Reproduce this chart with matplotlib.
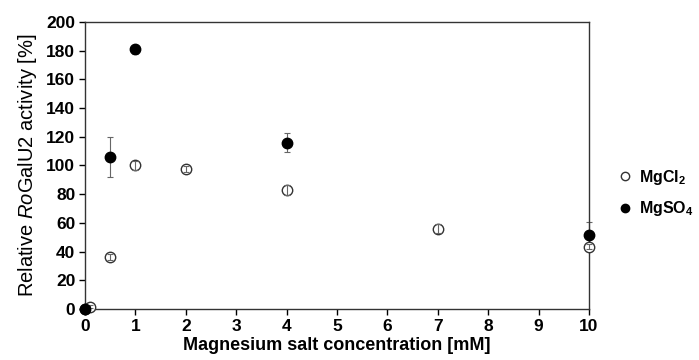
import matplotlib
matplotlib.use("Agg")
import matplotlib.pyplot as plt
from matplotlib.lines import Line2D

plt.rcParams["font.family"] = ["Liberation Sans", "DejaVu Sans"]
plt.rcParams["font.weight"] = "bold"
plt.rcParams["mathtext.fontset"] = "custom"
plt.rcParams["mathtext.rm"] = "Liberation Sans:bold"
plt.rcParams["mathtext.bf"] = "Liberation Sans:bold"
plt.rcParams["mathtext.it"] = "Liberation Sans:italic:normal"

# MgCl2 (open circles)
cl_x = [0, 0.1, 0.5, 1, 2, 4, 7, 10]
cl_y = [0, 1.5, 36, 100, 97.5, 83, 56, 43.5]
cl_err = [0, 1, 2, 3, 2, 3.5, 3, 2]

# MgSO4 (filled circles)
so_x = [0, 0.5, 1, 4, 10]
so_y = [0, 106, 181, 116, 51.5]
so_err = [0, 14, 3, 6.5, 9]

fig = plt.figure(figsize=(6.99, 3.6), dpi=100)
ax = fig.add_axes([85 / 699, 1 - 309 / 360, (589 - 85) / 699, (309 - 22) / 360])

ax.plot(cl_x, cl_y, "o", ms=7.5, mfc="white", mec="#333333", mew=1.0,
        clip_on=False, zorder=3)
ax.errorbar(cl_x, cl_y, yerr=cl_err, fmt="none", ecolor="#666666", elinewidth=0.8,
            capsize=2.5, capthick=0.8, clip_on=False, zorder=4)
ax.plot(so_x, so_y, "o", ms=7.5, mfc="black", mec="black", clip_on=False, zorder=5)
ax.errorbar(so_x, so_y, yerr=so_err, fmt="none", ecolor="#666666", elinewidth=0.8,
            capsize=2.5, capthick=0.8, clip_on=False, zorder=2)

ax.set_xlim(0, 10)
ax.set_ylim(0, 200)
ax.set_xticks(range(0, 11))
ax.set_yticks(range(0, 201, 20))
ax.tick_params(direction="out", length=4, width=1, labelsize=12.5, pad=3)
for s in ax.spines.values():
    s.set_linewidth(1.0)
    s.set_color("#333333")

ax.set_xlabel("Magnesium salt concentration [mM]", fontsize=13, fontweight="bold", labelpad=2)
ax.set_ylabel(r"Relative $\mathit{Ro}$GalU2 activity [%]", fontsize=14.5, fontweight="normal",
              labelpad=5)

handles = [
    Line2D([], [], ls="none", marker="o", ms=6, mfc="white", mec="#333333"),
    Line2D([], [], ls="none", marker="o", ms=6, mfc="black", mec="black"),
]
labels = ["MgCl$_2$", "MgSO$_4$"]
fig.legend(handles, labels, loc="center left", bbox_to_anchor=(601 / 699, 1 - 193 / 360),
           frameon=False, fontsize=11.5, handletextpad=0.3, labelspacing=0.8,
           handlelength=1.2)

fig.savefig("out.png", dpi=100, facecolor="white")
